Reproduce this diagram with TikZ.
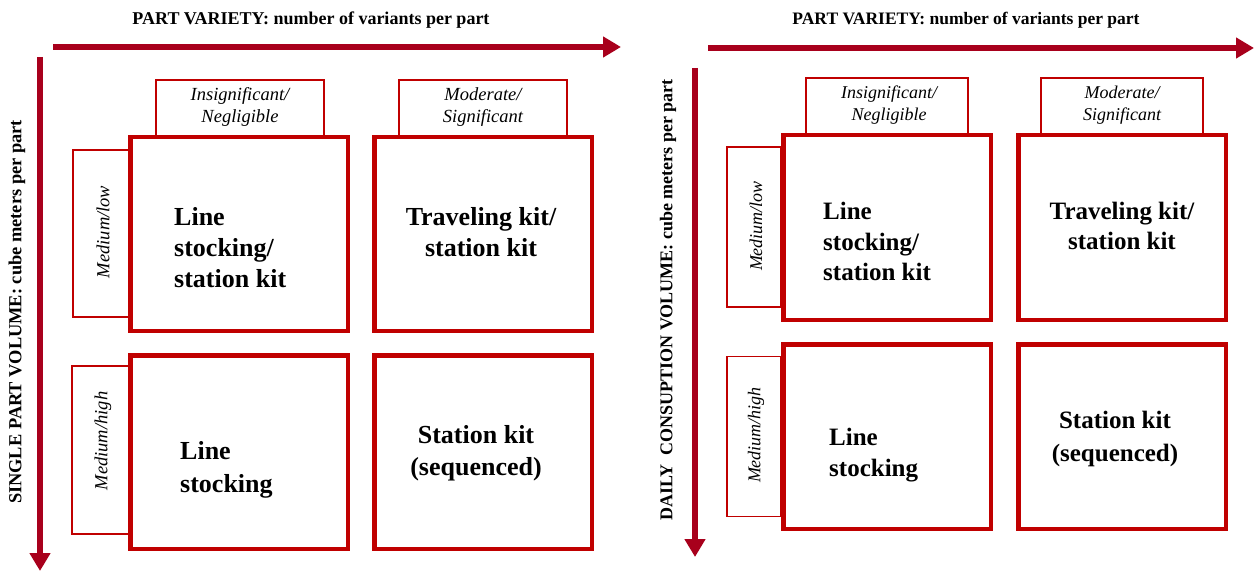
\documentclass[tikz,border=0pt]{standalone}
\usepackage{fontspec}
\setmainfont{Liberation Serif}
\usetikzlibrary{arrows.meta}
\definecolor{axisred}{HTML}{A8001C}
\definecolor{boxred}{HTML}{C00000}
\begin{document}
\begin{tikzpicture}[x=1pt,y=-1pt,
  axis/.style={draw=axisred,line width=5.5pt,-{Triangle[length=18pt,width=20pt]}},
  cell/.style={draw=boxred,fill=white,line width=4.5pt,inner sep=0pt},
  tag/.style={draw=boxred,fill=white,line width=1.4pt,inner sep=0pt},
  axtitle/.style={font=\fontsize{18}{22}\selectfont\bfseries},
  axtitleR/.style={font=\fontsize{17.5}{21}\selectfont\bfseries},
  tagtext/.style={font=\fontsize{18.5}{22}\selectfont\itshape,align=center},
  tagtextR/.style={font=\fontsize{18}{21.5}\selectfont\itshape,align=center},
  celltext/.style={font=\fontsize{26}{31}\selectfont\bfseries},
  celltextR/.style={font=\fontsize{25}{30.5}\selectfont\bfseries}]
\useasboundingbox[fill=white] (0,0) rectangle (1255,572);

% ---------- left matrix: single part volume ----------
\coordinate (hL0) at (53,47);  \coordinate (hL1) at (621,47);
\coordinate (vL0) at (40,57);  \coordinate (vL1) at (40,571);
\draw[axis] (hL0) -- (hL1);
\draw[axis] (vL0) -- (vL1);
\node[axtitle] (tL) at (311,20) {PART VARIETY: number of variants per part};
\node[axtitle,rotate=90,font=\fontsize{18.4}{22}\selectfont\bfseries] (yL) at (17,312) {SINGLE PART VOLUME: cube meters per part};

\node[tag,minimum width=168pt,minimum height=58pt] (hL1box) at (240,109) {};
\node[tag,minimum width=168pt,minimum height=58pt] (hL2box) at (483,109) {};
\node[tag,minimum width=57pt,minimum height=167pt] (sL1box) at (101.5,233.5) {};
\node[tag,minimum width=58pt,minimum height=168pt] (sL2box) at (101,450) {};

\node[cell,minimum width=217.5pt,minimum height=193.5pt] (cL11) at (239,234) {};
\node[cell,minimum width=217.5pt,minimum height=193.5pt] (cL12) at (483,234) {};
\node[cell,minimum width=217.5pt,minimum height=193.5pt] (cL21) at (239,452) {};
\node[cell,minimum width=217.5pt,minimum height=193.5pt] (cL22) at (483,452) {};

\node[tagtext] (hL1t) at (240,107) {Insignificant/\\Negligible};
\node[tagtext] (hL2t) at (483,107) {Moderate/\\Significant};
\node[tagtext,rotate=90] (sL1t) at (103,232) {Medium/low};
\node[tagtext,rotate=90] (sL2t) at (103,441) {Medium/high};

\node[celltext,align=left,anchor=west,inner sep=0pt] (tL11) at (174,248) {Line\\stocking/\\station kit};
\node[celltext,align=center] (tL12) at (481,232) {Traveling kit/\\station kit};
\node[celltext,align=left,anchor=west,inner sep=0pt,font=\fontsize{26}{33}\selectfont\bfseries] (tL21) at (180,470) {Line\\stocking};
\node[celltext,align=center,font=\fontsize{26}{32}\selectfont\bfseries] (tL22) at (476,453) {Station kit\\(sequenced)};

% ---------- right matrix: daily consumption volume ----------
\coordinate (hR0) at (708,48);  \coordinate (hR1) at (1254,48);
\coordinate (vR0) at (695,68);  \coordinate (vR1) at (695,557);
\draw[axis] (hR0) -- (hR1);
\draw[axis] (vR0) -- (vR1);
\node[axtitleR] (tR) at (966,20) {PART VARIETY: number of variants per part};
\node[axtitleR,rotate=90,font=\fontsize{18}{22}\selectfont\bfseries] (yR) at (668,300) {DAILY\ \ CONSUPTION VOLUME: cube meters per part};

\node[tag,minimum width=162pt,minimum height=56pt] (hR1box) at (887,106) {};
\node[tag,minimum width=162pt,minimum height=56pt] (hR2box) at (1122,106) {};
\node[tag,minimum width=54pt,minimum height=160pt] (sR1box) at (754,227) {};
\node[tag,minimum width=54pt,minimum height=160pt] (sR2box) at (754,436.5) {};

\node[cell,minimum width=207.5pt,minimum height=184.5pt] (cR11) at (887,227.5) {};
\node[cell,minimum width=207.5pt,minimum height=184.5pt] (cR12) at (1122,227.5) {};
\node[cell,minimum width=207.5pt,minimum height=184.5pt] (cR21) at (887,436.5) {};
\node[cell,minimum width=207.5pt,minimum height=184.5pt] (cR22) at (1122,436.5) {};

\node[tagtextR] (hR1t) at (889,105) {Insignificant/\\Negligible};
\node[tagtextR] (hR2t) at (1122,105) {Moderate/\\Significant};
\node[tagtextR,rotate=90] (sR1t) at (756,226) {Medium/low};
\node[tagtextR,rotate=90] (sR2t) at (756,435) {Medium/high};

\node[celltextR,align=left,anchor=west,inner sep=0pt] (tR11) at (823,241.5) {Line\\stocking/\\station kit};
\node[celltextR,align=center] (tR12) at (1122,226) {Traveling kit/\\station kit};
\node[celltextR,align=left,anchor=west,inner sep=0pt] (tR21) at (829,455) {Line\\stocking};
\node[celltextR,align=center,font=\fontsize{25}{33}\selectfont\bfseries] (tR22) at (1115,438.5) {Station kit\\(sequenced)};
\end{tikzpicture}
\end{document}
